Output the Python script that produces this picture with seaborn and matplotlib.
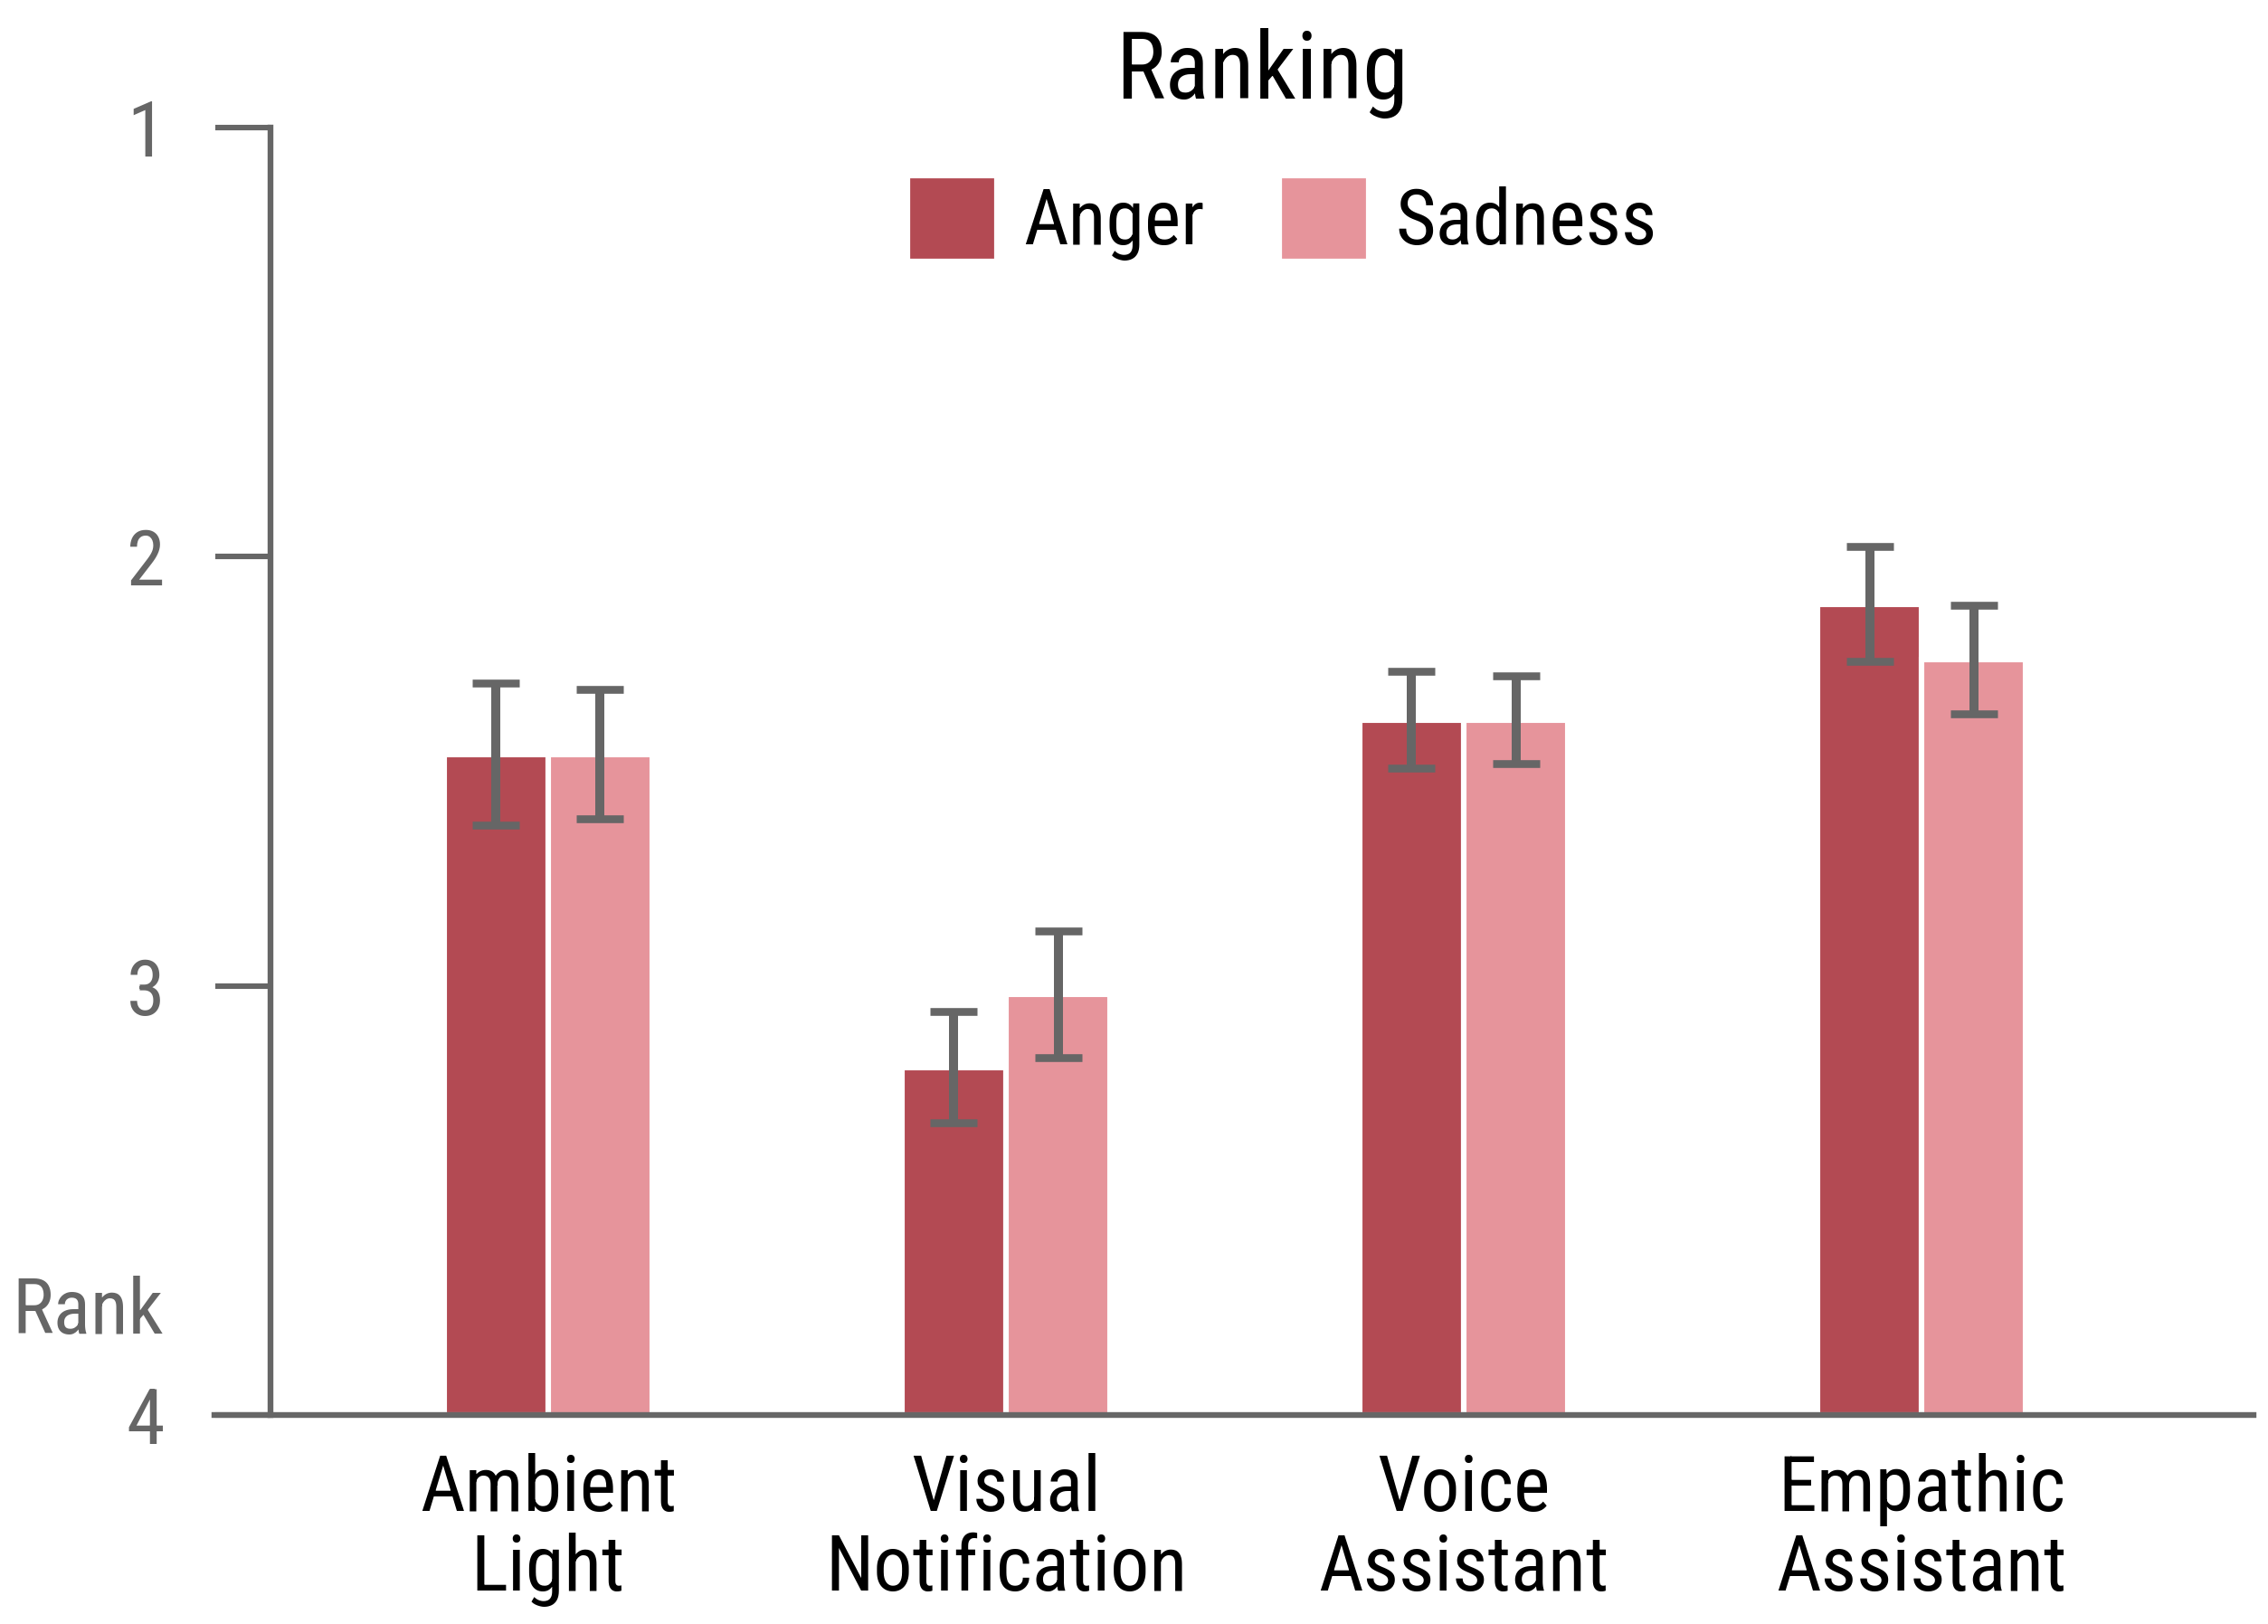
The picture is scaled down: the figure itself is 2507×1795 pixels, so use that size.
import pandas as pd
import numpy as np
import matplotlib
matplotlib.use('Agg')
import matplotlib.pyplot as plt
import matplotlib.patches as mpatches
from matplotlib import font_manager as fm
import seaborn as sns

# data (rank, 1 = best)
interfaces = ['Ambient\nLight', 'Visual\nNotification', 'Voice\nAssistant', 'Empathic\nAssistant']
emotions = ['Anger', 'Sadness']
anger_rank = [2.46, 3.19, 2.38, 2.11]
sadness_rank = [2.46, 3.02, 2.38, 2.24]
anger_err = [0.165, 0.13, 0.113, 0.133]
sadness_err = [0.15, 0.148, 0.103, 0.127]
rank_ticks = [1, 2, 3, 4]

colors = ['#B34A53', '#E6949B']
grey = '#666666'

sns.set_theme(style='white')

# pick a condensed font if one is there
names = {f.name for f in fm.fontManager.ttflist}
stretch = 'normal'
if 'Roboto Condensed' in names:
    family = 'Roboto Condensed'
elif 'Liberation Sans Narrow' in names:
    family = 'Liberation Sans Narrow'
else:
    family = 'DejaVu Sans'
    stretch = 'condensed'
plt.rcParams['font.family'] = [family, 'DejaVu Sans']
plt.rcParams['font.stretch'] = stretch
plt.rcParams['text.color'] = 'black'

fs = 31

# bars grow from rank 4 upwards, so plot depth = 4 - rank
worst = max(rank_ticks)
df = pd.DataFrame({
    'interface': interfaces * 2,
    'emotion': [emotions[0]] * 4 + [emotions[1]] * 4,
    'depth': [worst - r for r in anger_rank + sadness_rank],
})
errs = [anger_err, sadness_err]

fig = plt.figure(figsize=(12.535, 8.975), dpi=200)
ax = fig.add_axes([237 / 2507, 1 - 1564 / 1795, 2254 / 2507, 1423 / 1795])

sns.barplot(data=df, x='interface', y='depth', hue='emotion', order=interfaces,
            hue_order=emotions, palette=colors, saturation=1, width=0.455,
            errorbar=None, edgecolor='white', linewidth=2.2, ax=ax)

# error bars on top of each bar
for container, err in zip(ax.containers, errs):
    xs = [b.get_x() + b.get_width() / 2 for b in container]
    ys = [b.get_height() for b in container]
    ax.errorbar(xs, ys, yerr=err, fmt='none', ecolor=grey, elinewidth=3.6,
                capsize=9.4, capthick=3.1, zorder=5)

ax.set_xlim(-0.729, 3.725)
ax.set_ylim(0, worst - 1)
ax.set_yticks([worst - r for r in rank_ticks])
ax.set_yticklabels([str(r) for r in rank_ticks])

sns.despine(ax=ax)
ax.spines['left'].set_position(('axes', 62 / 2254))
for s in ['left', 'bottom']:
    ax.spines[s].set_color(grey)
    ax.spines[s].set_linewidth(2.3)
ax.tick_params(axis='y', direction='out', length=22, width=2.2, color=grey,
               labelcolor=grey, labelsize=fs, pad=20, left=True)
ax.tick_params(axis='x', length=0, labelsize=fs, labelcolor='black', pad=15)
for lab in ax.get_xticklabels():
    lab.set_linespacing(1.11)

ax.set_xlabel('')
ax.set_ylabel('Rank', rotation=0, ha='right', va='baseline', fontsize=fs, color=grey)
ax.yaxis.set_label_coords(-56 / 2254, 90 / 1423)

# legend
ax.get_legend().remove()
handles = [mpatches.Patch(color=c, label=e) for c, e in zip(colors, emotions)]
fig.legend(handles=handles, loc='center', bbox_to_anchor=(1419 / 2507, 1 - 243 / 1795),
           ncol=2, frameon=False, fontsize=fs, handlelength=1.045, handleheight=1.17,
           handletextpad=0.4, columnspacing=1.0, borderpad=0)

fig.text(1395 / 2507, 1 - 109 / 1795, 'Ranking', ha='center', va='baseline',
         fontsize=37, color='black')

fig.savefig('out.png', dpi=200, facecolor='white')
